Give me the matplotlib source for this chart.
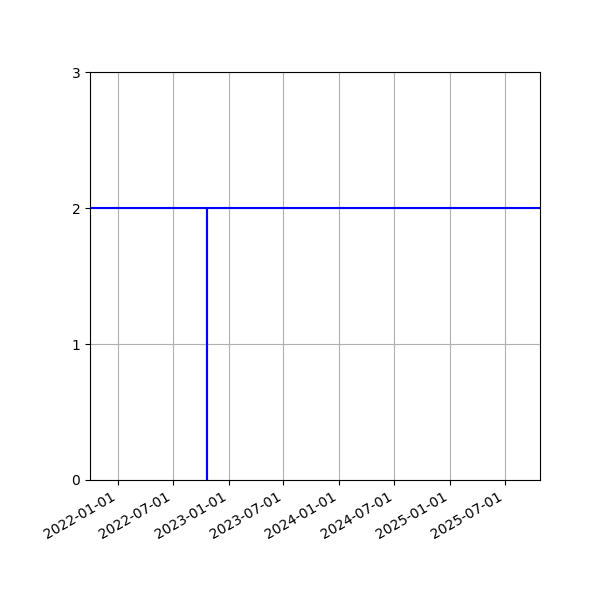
import matplotlib
matplotlib.use("Agg")
import matplotlib.pyplot as plt
import matplotlib.dates as mdates
import pandas as pd

dates = pd.to_datetime(["2021-10-01", "2022-10-23", "2022-10-23", "2022-10-23", "2025-10-24"])
values = [2, 2, 0, 2, 2]

fig, ax = plt.subplots(figsize=(6, 6), dpi=100)
ax.plot(dates, values, color="b", linewidth=1.5)
ax.set_xlim(dates[0], dates[-1])
ax.set_ylim(0, 3)
ax.set_yticks([0, 1, 2, 3])
ax.xaxis.set_major_locator(mdates.MonthLocator(bymonth=[1, 7]))
ax.xaxis.set_major_formatter(mdates.DateFormatter("%Y-%m-%d"))
ax.grid(True)
fig.autofmt_xdate()
fig.subplots_adjust(left=0.15, right=0.9, top=0.88, bottom=0.2)

fig.savefig("out.png")
